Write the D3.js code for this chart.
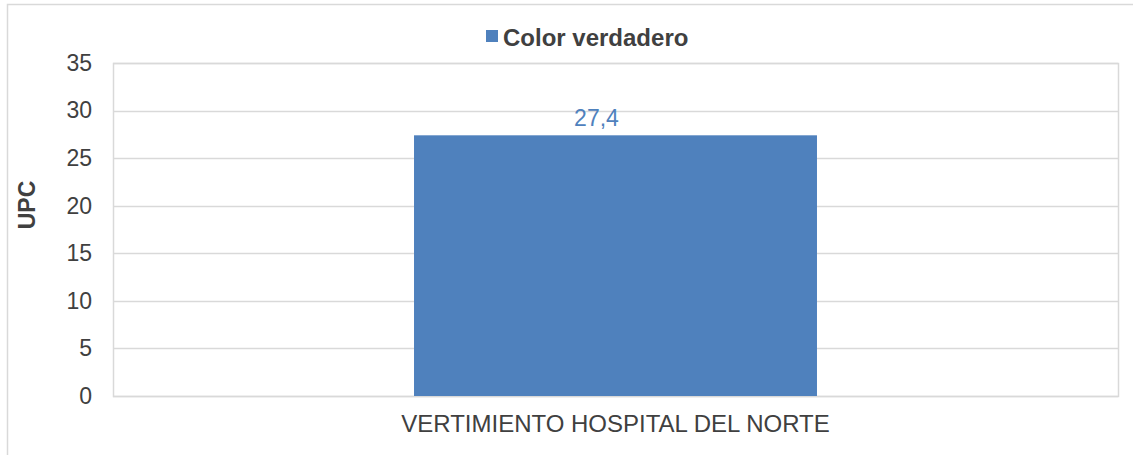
<!DOCTYPE html>
<html>
<head>
<meta charset="utf-8">
<script src="https://cdn.jsdelivr.net/npm/d3@7"></script>
<style>
  body { margin: 0; background: #fff; }
  svg text { font-family: Arial, "Liberation Sans", sans-serif; }
</style>
</head>
<body>
<div id="chart-area"></div>
<script>
// chart data
var categories = ['VERTIMIENTO HOSPITAL DEL NORTE'];
var series_name = 'Color verdadero';
var upc_values = [27.4];
var value_labels = ['27,4'];
var y_ticks = [0, 5, 10, 15, 20, 25, 30, 35];

var plot_width = 1133;
var plot_height = 455;
var margin = {top: 63, right: 15, bottom: 59, left: 113};
var inner_w = plot_width - margin.left - margin.right;
var inner_h = plot_height - margin.top - margin.bottom;
var bar_color = '#4f81bd';
var grid_color = '#d9d9d9';
var text_color = '#404040';

var svg = d3.select('#chart-area')
  .append('svg')
  .attr('width', plot_width)
  .attr('height', plot_height);

// outer chart border
svg.append('rect')
  .attr('x', 7.5).attr('y', 4.5)
  .attr('width', plot_width + 20).attr('height', plot_height + 20)
  .attr('fill', 'none')
  .attr('stroke', grid_color)
  .attr('stroke-width', 1.5);

var x_scale = d3.scaleBand()
  .domain(categories)
  .range([0, inner_w])
  .paddingInner(0.4276)
  .paddingOuter(0.4276);

var y_scale = d3.scaleLinear()
  .domain([0, 35])
  .range([inner_h, 0]);

var g = svg.append('g')
  .attr('transform', 'translate(' + margin.left + ',' + margin.top + ')');

// gridlines
g.selectAll('line.grid')
  .data(y_ticks)
  .enter()
  .append('line')
  .attr('class', 'grid')
  .attr('x1', 0).attr('x2', inner_w)
  .attr('y1', d => Math.round(y_scale(d)) + 0.5)
  .attr('y2', d => Math.round(y_scale(d)) + 0.5)
  .attr('stroke', grid_color)
  .attr('stroke-width', 1.5);

// plot-area sides
g.append('rect')
  .attr('x', 0.5).attr('y', 0.5)
  .attr('width', inner_w).attr('height', inner_h)
  .attr('fill', 'none')
  .attr('stroke', grid_color)
  .attr('stroke-width', 1.5);

// bars
g.selectAll('rect.bar')
  .data(upc_values)
  .enter()
  .append('rect')
  .attr('class', 'bar')
  .attr('x', (d, i) => x_scale(categories[i]))
  .attr('width', x_scale.bandwidth())
  .attr('y', d => y_scale(d))
  .attr('height', d => inner_h - y_scale(d))
  .attr('fill', bar_color);

// value labels
g.selectAll('text.value')
  .data(upc_values)
  .enter()
  .append('text')
  .attr('class', 'value')
  .attr('x', (d, i) => x_scale(categories[i]) + x_scale.bandwidth() / 2 - 19)
  .attr('y', d => y_scale(d) - 9)
  .attr('text-anchor', 'middle')
  .attr('font-size', 23)
  .attr('fill', bar_color)
  .text((d, i) => value_labels[i]);

// y axis tick labels
var y_axis = d3.axisLeft(y_scale)
  .tickValues(y_ticks)
  .tickSize(0)
  .tickPadding(21)
  .tickFormat(d3.format('d'));

var y_g = g.append('g').call(y_axis);
y_g.select('.domain').remove();
y_g.selectAll('text')
  .attr('font-size', 23)
  .attr('font-family', 'Arial, "Liberation Sans", sans-serif')
  .attr('fill', text_color);

// x axis labels
var x_axis = d3.axisBottom(x_scale).tickSize(0).tickPadding(19);
var x_g = g.append('g')
  .attr('transform', 'translate(0,' + inner_h + ')')
  .call(x_axis);
x_g.select('.domain').remove();
x_g.selectAll('text')
  .attr('font-size', 24)
  .attr('font-family', 'Arial, "Liberation Sans", sans-serif')
  .attr('fill', text_color);

// y axis title
svg.append('text')
  .attr('transform', 'translate(35,205) rotate(-90)')
  .attr('text-anchor', 'middle')
  .attr('font-size', 23)
  .attr('font-weight', 'bold')
  .attr('fill', text_color)
  .text('UPC');

// legend
svg.append('rect')
  .attr('x', 486).attr('y', 30)
  .attr('width', 12).attr('height', 12)
  .attr('fill', bar_color);
svg.append('text')
  .attr('x', 503).attr('y', 46)
  .attr('font-size', 24)
  .attr('font-weight', 'bold')
  .attr('fill', text_color)
  .text(series_name);
</script>
</body>
</html>
